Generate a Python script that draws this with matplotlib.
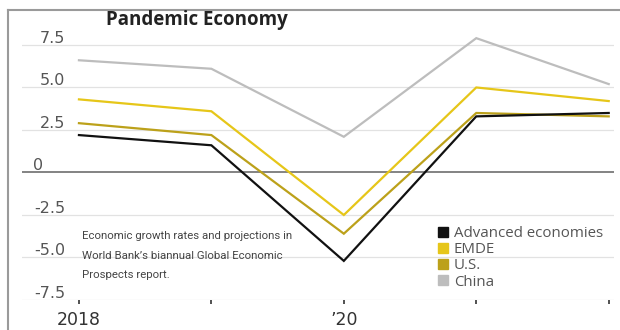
import matplotlib.pyplot as plt
from matplotlib.lines import Line2D
import matplotlib.transforms as mtransforms

years = [2018, 2019, 2020, 2021, 2022]
series_names = ["Advanced economies", "EMDE", "U.S.", "China"]
advanced = [2.2, 1.6, -5.2, 3.3, 3.5]
emde = [4.3, 3.6, -2.5, 5.0, 4.2]
us = [2.9, 2.2, -3.6, 3.5, 3.3]
china = [6.6, 6.1, 2.1, 7.9, 5.2]
colors = ["#111111", "#e6c619", "#bca11a", "#bdbdbd"]
yticks = [7.5, 5.0, 2.5, 0, -2.5, -5.0, -7.5]
ytick_labels = ["7.5", "5.0", "2.5", "0", "-2.5", "-5.0", "-7.5"]
xtick_labels = {2018: "2018", 2020: "\u201920"}

fig = plt.figure(figsize=(6.2, 3.3), dpi=100)
ax = fig.add_axes([22 / 620, 30 / 330, 592 / 620, 270 / 330])
ax.set_xlim(2017.57, 2022.04)
ax.set_ylim(-7.5, 8.38)

# gridlines
for v in yticks:
    if v == 0:
        ax.axhline(v, color="#7a7a7a", lw=1.3, zorder=1)
    else:
        ax.axhline(v, color="#e2e2e2", lw=0.9, zorder=0)

data = [china, emde, us, advanced]
cols = [colors[3], colors[1], colors[2], colors[0]]
for vals, c in zip(data, cols):
    ax.plot(years, vals, color=c, lw=1.6, solid_joinstyle="miter", zorder=3)

# y labels sit above gridlines, right edge at ~65px
trans = mtransforms.blended_transform_factory(ax.transAxes, ax.transData)
for v, lab in zip(yticks, ytick_labels):
    if v == 0:
        x, ha = (33 - 22) / 592, "left"
    else:
        x, ha = (65 - 22) / 592, "right"
    ax.text(x, v + 0.13, lab, transform=trans, ha=ha, va="baseline",
            fontsize=11.5, color="#555555", family="DejaVu Sans")

for s in ax.spines.values():
    s.set_visible(False)
ax.set_yticks([])
ax.set_xticks(years)
ax.set_xticklabels([xtick_labels.get(y, "") for y in years],
                   fontsize=12.5, color="#333333", family="DejaVu Sans")
ax.tick_params(axis="x", length=3, width=1.2, color="#333333", pad=5)

fig.text(197 / 620, 1 - 20 / 330, "Pandemic Economy", ha="center", va="center",
         fontsize=13.5, fontweight="bold", color="#222222", family="Open Sans")

fig.text(82 / 620, 1 - 231 / 330,
         "Economic growth rates and projections in\n"
         "World Bank\u2019s biannual Global Economic\n"
         "Prospects report.",
         ha="left", va="top", fontsize=8.2, color="#444444", linespacing=2.2,
         family=["Roboto", "DejaVu Sans"])

handles = [Line2D([], [], marker="s", ls="none", color=c, markersize=7.5)
           for c in colors]
fig.legend(handles, series_names, loc="upper left",
           bbox_to_anchor=(438 / 620, 1 - 226 / 330), frameon=False,
           handlelength=0.7, handletextpad=0.35, labelspacing=0.08,
           borderaxespad=0, borderpad=0,
           prop={"family": "Open Sans", "size": 10.8}, labelcolor="#555555")

# frame lines (left and top)
fig.add_artist(Line2D([8 / 620, 8 / 620], [0, 1 - 10 / 330],
                      transform=fig.transFigure, color="#9a9a9a", lw=1.5))
fig.add_artist(Line2D([8 / 620, 1], [1 - 10 / 330, 1 - 10 / 330],
                      transform=fig.transFigure, color="#9a9a9a", lw=1.5))

fig.savefig("out.png", dpi=100)
